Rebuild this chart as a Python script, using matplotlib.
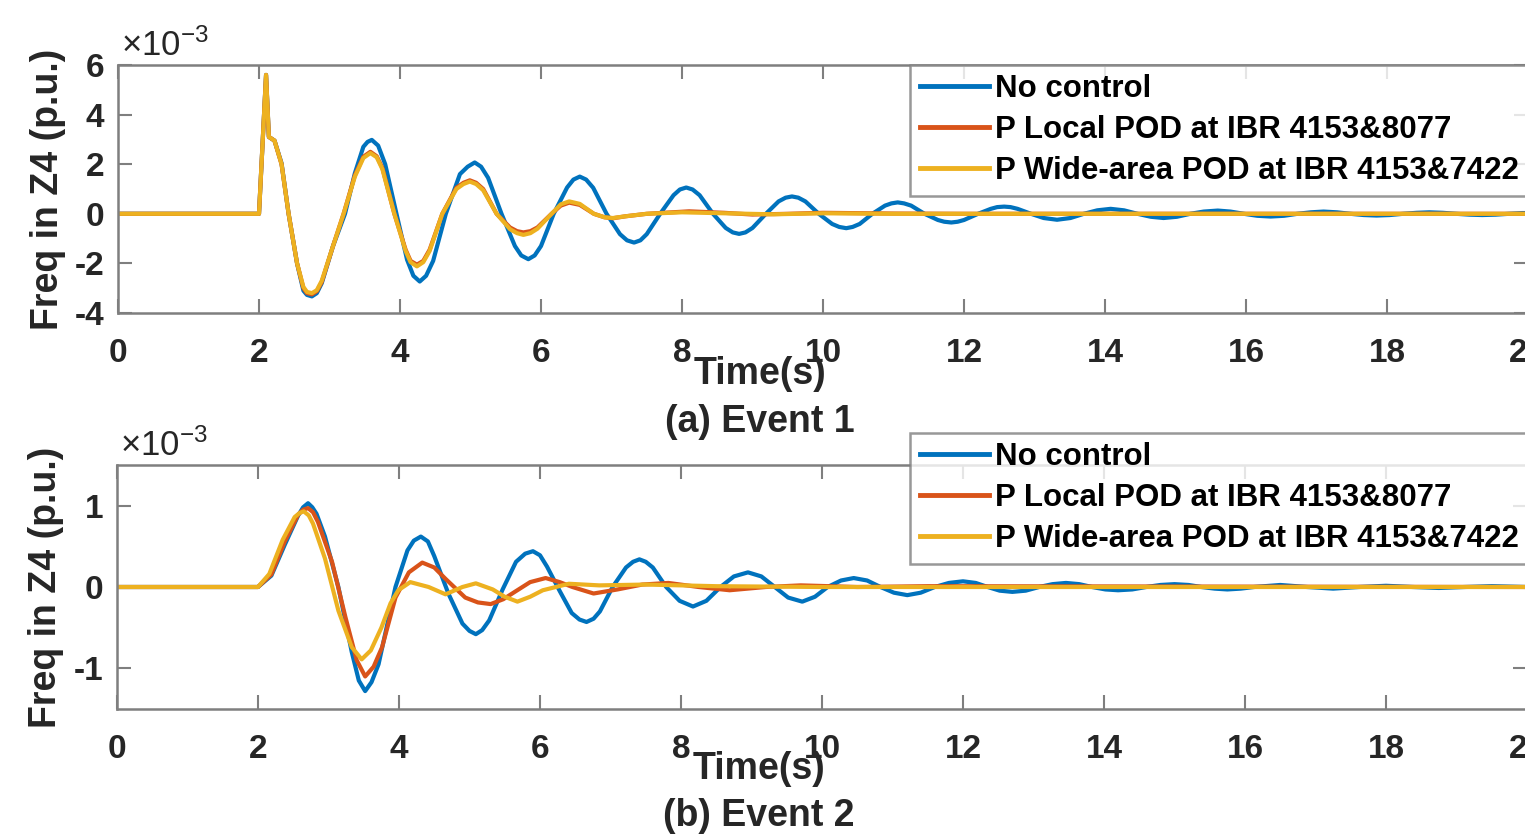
import matplotlib
matplotlib.use('Agg')
import matplotlib.pyplot as plt

plt.rcParams['font.family'] = ['Liberation Sans', 'DejaVu Sans']
plt.rcParams['font.weight'] = 'bold'
plt.rcParams['mathtext.default'] = 'regular'
plt.rcParams['axes.unicode_minus'] = False

labels = ['No control', 'P Local POD at IBR 4153&8077', 'P Wide-area POD at IBR 4153&7422']
colors = ['#0072BD', '#D95319', '#EDB120']

# Event 1, (time s, freq in 1e-3 p.u.)
e1_none = [(0, 0), (2.0, 0), (2.1, 5.6), (2.14, 3.1), (2.22, 2.95), (2.32, 2.04), (2.42, 0),
           (2.54, -2.0), (2.63, -3.1), (2.68, -3.27), (2.75, -3.33), (2.82, -3.2), (2.89, -2.8),
           (3.05, -1.3), (3.22, 0), (3.36, 1.64), (3.48, 2.7), (3.54, 2.9), (3.6, 2.98), (3.69, 2.75),
           (3.79, 2.0), (3.95, 0), (4.1, -1.85), (4.19, -2.5), (4.28, -2.73), (4.37, -2.5),
           (4.47, -1.9), (4.65, 0), (4.85, 1.6), (4.96, 1.9), (5.06, 2.07), (5.15, 1.9), (5.25, 1.45),
           (5.44, 0), (5.63, -1.3), (5.72, -1.68), (5.82, -1.83), (5.91, -1.68), (6.0, -1.3),
           (6.18, 0), (6.37, 1.06), (6.46, 1.38), (6.55, 1.5), (6.64, 1.38), (6.74, 1.05),
           (6.93, 0), (7.12, -0.82), (7.22, -1.07), (7.32, -1.16), (7.41, -1.07), (7.5, -0.82),
           (7.69, 0), (7.88, 0.75), (7.97, 0.98), (8.06, 1.06), (8.15, 0.98), (8.25, 0.75),
           (8.44, 0), (8.62, -0.57), (8.72, -0.75), (8.81, -0.81), (8.9, -0.75), (9.0, -0.57),
           (9.19, 0), (9.37, 0.5), (9.47, 0.65), (9.56, 0.7), (9.65, 0.65), (9.75, 0.5),
           (9.94, 0), (10.13, -0.41), (10.23, -0.53), (10.33, -0.58), (10.42, -0.53), (10.52, -0.41),
           (10.7, 0), (10.88, 0.33), (10.97, 0.42), (11.06, 0.46), (11.15, 0.42), (11.25, 0.33),
           (11.44, 0), (11.63, -0.25), (11.72, -0.32), (11.82, -0.35), (11.91, -0.32), (12.0, -0.25),
           (12.2, 0), (12.38, 0.2), (12.47, 0.27), (12.57, 0.29), (12.66, 0.27), (12.76, 0.2),
           (12.95, 0), (13.13, -0.17), (13.32, -0.24), (13.51, -0.17), (13.7, 0), (13.89, 0.14),
           (14.08, 0.2), (14.27, 0.14), (14.46, 0), (14.65, -0.12), (14.83, -0.17), (15.02, -0.12),
           (15.21, 0), (15.4, 0.09), (15.6, 0.13), (15.78, 0.09), (15.97, 0), (16.16, -0.08),
           (16.35, -0.11), (16.54, -0.08), (16.73, 0), (16.92, 0.06), (17.1, 0.09), (17.29, 0.06),
           (17.48, 0), (17.67, -0.05), (17.85, -0.07), (18.04, -0.05), (18.23, 0), (18.42, 0.04),
           (18.6, 0.06), (18.79, 0.04), (18.98, 0), (19.17, -0.035), (19.35, -0.05), (19.54, -0.035),
           (19.73, 0), (19.92, 0.03), (20, 0.03)]

e1_local = [(0, 0), (2.0, 0), (2.1, 5.6), (2.14, 3.1), (2.22, 2.95), (2.32, 2.0), (2.42, 0),
            (2.54, -2.0), (2.63, -3.0), (2.68, -3.2), (2.75, -3.25), (2.82, -3.12), (2.89, -2.75),
            (3.05, -1.3), (3.2, 0), (3.36, 1.55), (3.48, 2.3), (3.58, 2.5), (3.67, 2.32),
            (3.75, 1.85), (3.92, 0), (4.08, -1.45), (4.15, -1.9), (4.24, -2.05), (4.33, -1.9),
            (4.42, -1.45), (4.6, 0), (4.8, 1.05), (4.9, 1.25), (4.99, 1.35), (5.08, 1.25),
            (5.18, 1.0), (5.37, 0), (5.56, -0.55), (5.66, -0.7), (5.75, -0.75), (5.85, -0.7),
            (5.95, -0.55), (6.15, 0), (6.28, 0.33), (6.4, 0.45), (6.55, 0.36), (6.75, 0),
            (6.9, -0.14), (7.02, -0.18), (7.2, -0.1), (7.5, 0), (8.1, 0.1), (8.6, 0.04),
            (9.0, -0.03), (9.5, 0), (10.0, 0.04), (11.0, 0.01), (12.0, 0), (20, 0)]

e1_wide = [(0, 0), (2.0, 0), (2.1, 5.6), (2.14, 3.1), (2.22, 2.95), (2.32, 2.0), (2.42, 0),
           (2.54, -2.0), (2.63, -2.95), (2.68, -3.15), (2.75, -3.2), (2.82, -3.08), (2.89, -2.7),
           (3.05, -1.3), (3.2, 0), (3.36, 1.5), (3.48, 2.25), (3.58, 2.45), (3.67, 2.28),
           (3.75, 1.8), (3.92, 0), (4.08, -1.5), (4.15, -1.95), (4.24, -2.12), (4.33, -1.95),
           (4.42, -1.5), (4.6, 0), (4.8, 1.0), (4.9, 1.2), (4.99, 1.3), (5.08, 1.2), (5.18, 0.95),
           (5.37, 0), (5.56, -0.62), (5.66, -0.78), (5.75, -0.85), (5.85, -0.78), (5.95, -0.6),
           (6.15, 0), (6.28, 0.38), (6.4, 0.5), (6.55, 0.4), (6.75, 0), (6.9, -0.14),
           (7.02, -0.17), (7.2, -0.1), (7.5, 0), (8.0, 0.06), (8.6, 0.02), (9.3, -0.02),
           (10.0, 0.02), (11.0, 0), (20, 0)]

# Event 2, (time s, freq in 1e-3 p.u.)
e2_none = [(0, 0), (2.0, 0), (2.19, 0.14), (2.38, 0.52), (2.57, 0.88), (2.64, 0.98), (2.71, 1.03),
           (2.77, 0.98), (2.83, 0.9), (2.95, 0.62), (3.14, 0), (3.33, -0.8), (3.43, -1.15),
           (3.52, -1.28), (3.61, -1.17), (3.71, -0.95), (3.95, 0), (4.12, 0.45), (4.21, 0.57),
           (4.31, 0.62), (4.41, 0.56), (4.5, 0.38), (4.7, -0.08), (4.9, -0.45), (5.0, -0.54),
           (5.09, -0.58), (5.18, -0.53), (5.28, -0.41), (5.47, -0.03), (5.66, 0.31), (5.79, 0.41),
           (5.9, 0.44), (6.0, 0.39), (6.1, 0.25), (6.28, -0.05), (6.45, -0.32), (6.56, -0.4),
           (6.66, -0.43), (6.76, -0.39), (6.85, -0.3), (7.03, 0), (7.22, 0.24), (7.32, 0.31),
           (7.41, 0.34), (7.5, 0.31), (7.6, 0.24), (7.79, 0), (7.98, -0.17), (8.17, -0.24),
           (8.36, -0.17), (8.56, 0), (8.75, 0.13), (8.95, 0.18), (9.14, 0.13), (9.33, 0),
           (9.52, -0.13), (9.72, -0.18), (9.9, -0.12), (10.08, 0), (10.27, 0.08), (10.45, 0.11),
           (10.64, 0.08), (10.83, 0), (11.02, -0.07), (11.21, -0.1), (11.4, -0.07), (11.6, 0),
           (11.8, 0.05), (12.0, 0.07), (12.18, 0.05), (12.35, 0), (12.52, -0.045), (12.7, -0.06),
           (12.89, -0.045), (13.08, 0), (13.27, 0.035), (13.46, 0.05), (13.65, 0.035), (13.83, 0),
           (14.02, -0.03), (14.2, -0.04), (14.4, -0.03), (14.6, 0), (14.8, 0.025), (15.0, 0.035),
           (15.2, 0.025), (15.38, 0), (15.57, -0.02), (15.75, -0.03), (15.94, -0.02), (16.13, 0),
           (16.5, 0.025), (16.88, 0), (17.25, -0.02), (17.62, 0), (18.0, 0.015), (18.38, 0),
           (18.75, -0.012), (19.12, 0), (19.5, 0.01), (20, 0)]

e2_local = [(0, 0), (2.0, 0), (2.19, 0.155), (2.38, 0.56), (2.57, 0.89), (2.64, 0.95), (2.71, 0.97),
            (2.78, 0.92), (2.85, 0.8), (3.05, 0.31), (3.24, -0.37), (3.4, -0.9), (3.52, -1.1),
            (3.64, -0.98), (3.76, -0.74), (3.95, -0.13), (4.14, 0.18), (4.33, 0.3), (4.5, 0.24),
            (4.66, 0.1), (4.94, -0.13), (5.12, -0.19), (5.3, -0.21), (5.48, -0.15), (5.66, -0.05),
            (5.86, 0.06), (6.08, 0.11), (6.28, 0.06), (6.46, 0), (6.76, -0.08), (7.1, -0.03),
            (7.45, 0.03), (7.82, 0.05), (8.25, 0), (8.69, -0.04), (9.2, 0), (9.7, 0.02),
            (10.5, 0), (11.5, 0.01), (20, 0)]

e2_wide = [(0, 0), (2.0, 0), (2.16, 0.16), (2.35, 0.58), (2.52, 0.86), (2.59, 0.91), (2.65, 0.93),
           (2.72, 0.88), (2.78, 0.78), (2.95, 0.35), (3.14, -0.29), (3.33, -0.74), (3.47, -0.89),
           (3.6, -0.78), (3.75, -0.5), (3.88, -0.2), (3.99, -0.04), (4.16, 0.06), (4.42, 0),
           (4.66, -0.09), (4.9, 0), (5.09, 0.045), (5.33, -0.03), (5.5, -0.12), (5.68, -0.18),
           (5.86, -0.12), (6.04, -0.04), (6.41, 0.04), (6.84, 0.02), (7.5, 0.03), (8.5, 0.01),
           (10.0, 0), (20, 0)]

event1 = [e1_none, e1_local, e1_wide]
event2 = [e2_none, e2_local, e2_wide]

grey = '#7f7f7f'
dark = '#262626'
W, H = 1525, 836

fig = plt.figure(figsize=(15.25, 8.36), dpi=100)
ax1 = fig.add_axes([118 / W, 1 - 313 / H, 1410 / W, 248 / H])
ax2 = fig.add_axes([117 / W, 1 - 709 / H, 1410 / W, 244 / H])


def setup(ax, series, ylim, yticks, caption, leg_top):
    for pts, c, lab in zip(series, colors, labels):
        t, v = zip(*pts)
        ax.plot(t, v, color=c, lw=3, label=lab, solid_joinstyle='round')
    ax.set_xlim(0, 20)
    ax.set_ylim(*ylim)
    ax.set_xticks(range(0, 21, 2))
    ax.set_yticks(yticks)
    ax.tick_params(direction='in', top=True, right=True, length=10, width=1.5,
                   color=grey, labelcolor=dark, labelsize=24)
    ax.tick_params(axis='x', pad=18)
    ax.tick_params(axis='y', pad=10)
    for s in ax.spines.values():
        s.set_color(grey)
        s.set_linewidth(1.8)
    ax.set_xlabel('Time(s)', fontsize=27, fontweight='bold', color=dark, va='center')
    ax.xaxis.set_label_coords(0.455, -0.245)
    ax.set_ylabel('Freq in Z4 (p.u.)', fontsize=27, fontweight='bold', color=dark, va='center')
    ax.yaxis.set_label_coords(-0.05, 0.5)
    ax.text(0.002, 1.01, r'$\times$10$^{-3}$', transform=ax.transAxes, fontsize=25,
            fontweight='normal', color=dark, va='bottom', ha='left')
    ax.text(0.455, -0.44, caption, transform=ax.transAxes, fontsize=27,
            fontweight='bold', color=dark, ha='center', va='center')
    leg = ax.legend(loc='upper right', bbox_to_anchor=(1528 / W, 1 - leg_top / H),
                    bbox_transform=fig.transFigure, fontsize=22.5, frameon=True, fancybox=False,
                    handlelength=2.2, handletextpad=0.2, labelspacing=0.35, borderpad=0.3,
                    borderaxespad=0)
    leg.get_frame().set_edgecolor(grey)
    leg.get_frame().set_linewidth(1.8)
    for txt in leg.get_texts():
        txt.set_color('black')
    for ln in leg.get_lines():
        ln.set_linewidth(3.5)


setup(ax1, event1, (-4, 6), [-4, -2, 0, 2, 4, 6], '(a) Event 1', 65)
setup(ax2, event2, (-1.5, 1.5), [-1, 0, 1], '(b) Event 2', 433)

fig.savefig('out.png', dpi=100)
